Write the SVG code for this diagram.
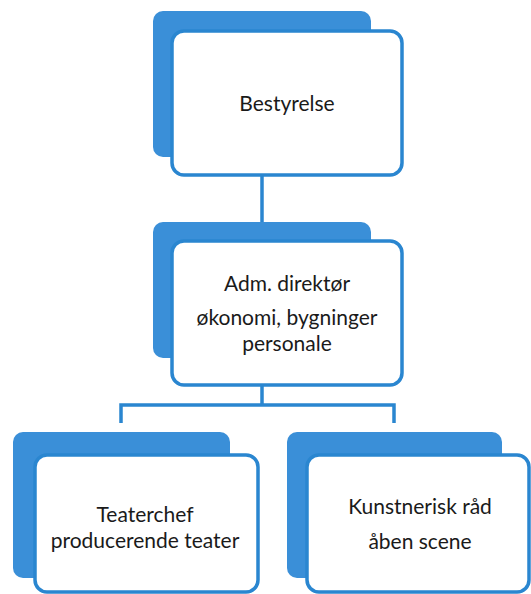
<svg xmlns="http://www.w3.org/2000/svg" width="531" height="594" viewBox="0 0 531 594">
<style>
.back{fill:#3a8fd8;}
.front{fill:#ffffff;stroke:#2a86d0;stroke-width:3.5;}
.conn{fill:none;stroke:#2a86d0;stroke-width:3.5;}
text{font-family:Lato,"Open Sans","Liberation Sans",sans-serif;font-size:21px;fill:#1a1a1a;text-anchor:middle;}
</style>
<rect width="531" height="594" fill="#ffffff"/>
<g id="connectors">
<line class="conn" x1="262" y1="175" x2="262" y2="230"/>
<path class="conn" d="M262 385 V405 M121 423 V405 H394 V423"/>
</g>
<g id="bestyrelse">
<rect class="back" x="153" y="11" width="218" height="146" rx="10"/>
<rect class="front" x="172" y="31" width="230" height="144" rx="12"/>
<text x="287" y="111">Bestyrelse</text>
</g>
<g id="adm">
<rect class="back" x="153" y="222" width="218" height="136" rx="10"/>
<rect class="front" x="172" y="241" width="230" height="144" rx="12"/>
<text x="287" y="291">Adm. direktør</text>
<text x="287" y="325">økonomi, bygninger</text>
<text x="287" y="351">personale</text>
</g>
<g id="teaterchef">
<rect class="back" x="13" y="432" width="217" height="146" rx="10"/>
<rect class="front" x="35" y="455" width="223" height="137" rx="12"/>
<text x="145" y="522">Teaterchef</text>
<text x="145" y="548">producerende teater</text>
</g>
<g id="kunstnerisk">
<rect class="back" x="287" y="432" width="215" height="146" rx="10"/>
<rect class="front" x="307" y="455" width="222" height="137" rx="12"/>
<text x="420" y="514">Kunstnerisk råd</text>
<text x="420" y="549">åben scene</text>
</g>
</svg>
